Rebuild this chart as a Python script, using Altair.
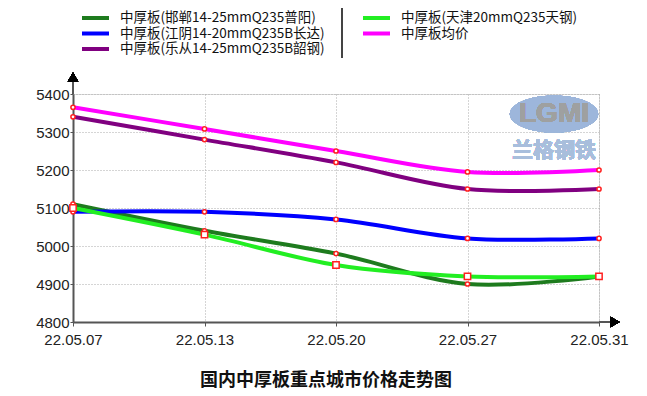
import altair as alt
import pandas as pd

dates = ["22.05.07", "22.05.13", "22.05.20", "22.05.27", "22.05.31"]
series_names = [
    "中厚板(邯郸14-25mmQ235普阳)",
    "中厚板(江阴14-20mmQ235B长达)",
    "中厚板(乐从14-25mmQ235B韶钢)",
    "中厚板(天津20mmQ235天钢)",
    "中厚板均价",
]
handan = [5110, 5040, 4980, 4900, 4920]
jiangyin = [5090, 5090, 5070, 5020, 5020]
lecong = [5340, 5280, 5220, 5150, 5150]
tianjin = [5100, 5030, 4950, 4920, 4920]
junjia = [5365, 5308, 5250, 5195, 5200]
series_values = [handan, jiangyin, lecong, tianjin, junjia]
colors = ["#1E7B1E", "#0000FF", "#800080", "#22EE22", "#FF00FF"]
y_ticks = [4800, 4900, 5000, 5100, 5200, 5300, 5400]
title_text = "国内中厚板重点城市价格走势图"

rows = []
for name, vals in zip(series_names, series_values):
    for d, v in zip(dates, vals):
        rows.append({"date": d, "price": v, "series": name})
df = pd.DataFrame(rows)

FONT = "Noto Sans CJK SC"
W, H = 526, 228

x_enc = alt.X("date:N", sort=dates, scale=alt.Scale(type="point", padding=0),
              axis=alt.Axis(title=None, labelAngle=0, labelFontSize=15, labelFont="Liberation Sans",
                            labelColor="#222", tickSize=4, tickColor="#555", labelPadding=6,
                            domainColor="#555", domainWidth=2, grid=True, gridColor="#aaa",
                            gridDash=[1, 2], gridWidth=1))
y_enc = alt.Y("price:Q", scale=alt.Scale(domain=[4800, 5400], nice=False, zero=False),
              axis=alt.Axis(title=None, values=y_ticks, tickCount=7, format="d", labelOverlap=False,
                            labelFontSize=15, labelFont="Liberation Sans",
                            labelColor="#222", tickSize=3, tickColor="#555", labelPadding=1,
                            domainColor="#555", domainWidth=2, grid=True, gridColor="#aaa",
                            gridDash=[1, 2], gridWidth=1))
color_enc = alt.Color("series:N", scale=alt.Scale(domain=series_names, range=colors),
                      legend=alt.Legend(title=None, orient="none", legendX=15.5, legendY=-83,
                                        columns=2, symbolType="M-2.7,0H2.7", symbolSize=100,
                                        symbolStrokeWidth=4, labelFont=FONT, labelFontSize=13.5,
                                        labelColor="#111", labelLimit=400, labelOffset=17.5,
                                        rowPadding=-0.5, columnPadding=29))

lines = alt.Chart(df).mark_line(interpolate="cardinal", tension=0, strokeWidth=4).encode(
    x=x_enc, y=y_enc, color=color_enc)

pts_circ = alt.Chart(df).transform_filter(
    alt.datum.series != series_names[3]).mark_point(
    shape="circle", filled=True, fill="white", stroke="#FF2020", strokeWidth=1.5, size=18, opacity=1
).encode(x=x_enc, y=y_enc)
pts_sq = alt.Chart(df).transform_filter(
    alt.datum.series == series_names[3]).mark_point(
    shape="square", filled=True, fill="white", stroke="#FF2020", strokeWidth=1.5, size=40, opacity=1
).encode(x=x_enc, y=y_enc)

# axis arrows and extensions
y_ext = alt.Chart(df).mark_rule(color="#555", strokeWidth=2).encode(
    x=alt.value(0), y=alt.value(-14), y2=alt.value(0))
x_ext = alt.Chart(df).mark_rule(color="#555", strokeWidth=2).encode(
    x=alt.value(W), x2=alt.value(W + 14), y=alt.value(H))
arrow_up = alt.Chart(df).mark_point(shape="triangle-up", filled=True, color="black", size=110, opacity=1).encode(
    x=alt.value(0), y=alt.value(-17))
arrow_right = alt.Chart(df).mark_point(shape="triangle-right", filled=True, color="black", size=110, opacity=1).encode(
    x=alt.value(W + 16), y=alt.value(H))
sep = alt.Chart(df).mark_rule(color="#444", strokeWidth=1.5).encode(
    x=alt.value(269), y=alt.value(-88), y2=alt.value(-36))

# watermark
ellipse = "M-1,0A1,0.42,0,1,1,1,0A1,0.42,0,1,1,-1,0Z"
logo_ell = alt.Chart(df).mark_point(shape=ellipse, filled=True, color="#9DB7DA", size=7800, opacity=0.55).encode(
    x=alt.value(481), y=alt.value(20))
logo = alt.Chart(df).mark_text(text="LGMI", font="Liberation Sans", fontSize=28, fontWeight="bold",
                               color="#a0a0a0", opacity=0.85).encode(x=alt.value(481), y=alt.value(20))
logo2 = alt.Chart(df).mark_text(text="兰格钢铁", font=FONT, fontSize=21, fontWeight="bold",
                                color="#A8BEDC", opacity=0.9).encode(x=alt.value(481), y=alt.value(57))

chart = alt.layer(lines, logo_ell, logo, logo2, pts_circ, pts_sq, y_ext, x_ext, arrow_up, arrow_right, sep).properties(
    width=W, height=H,
    title=alt.TitleParams(title_text, orient="bottom", anchor="middle", fontSize=18, fontWeight="bold",
                          font=FONT, color="#111", offset=25, dx=-10),
    autosize=alt.AutoSizeParams(type="none"),
    padding={"left": 65, "top": 86, "right": 40, "bottom": 74},
).configure_view(stroke=None).configure(background="white")

chart.save("out.html", embed_options={"renderer": "svg", "actions": False})
